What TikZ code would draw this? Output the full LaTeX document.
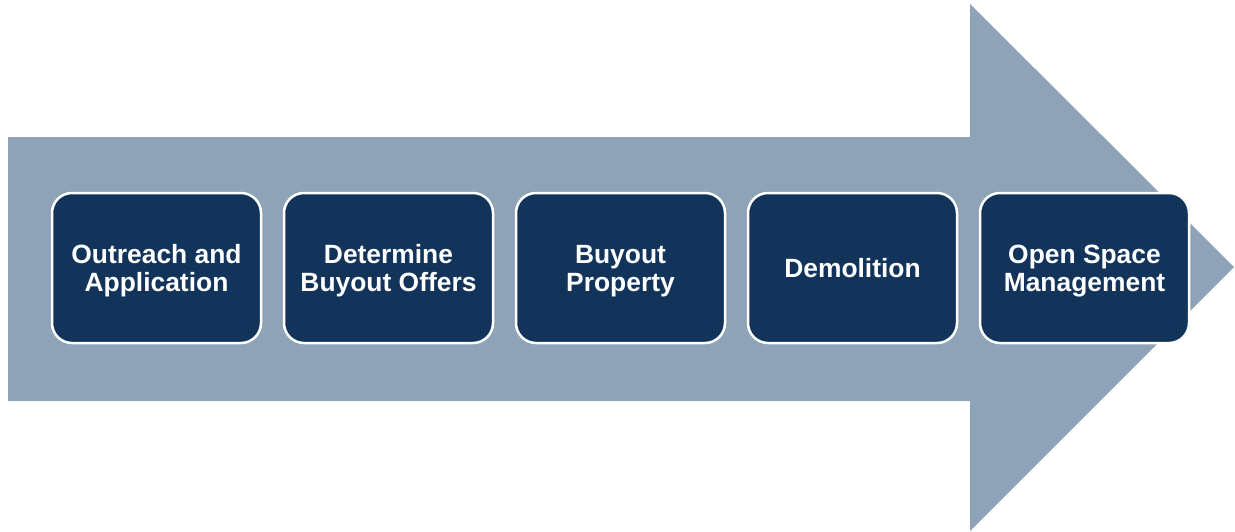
\documentclass[tikz,border=0pt]{standalone}
\usepackage{fontspec}
\setmainfont{Liberation Sans}
\usepackage{xcolor}
\usetikzlibrary{positioning}

\definecolor{ArrowGrey}{HTML}{8EA3B7}
\definecolor{StageBlue}{HTML}{12345A}

\tikzset{
  stage/.style={draw=white, line width=2.5pt, fill=StageBlue, rounded corners=20pt,
    minimum width=209pt, minimum height=150pt, inner sep=0pt, align=center,
    text depth=0pt, text=white, font=\fontsize{26.4}{28}\selectfont\bfseries}
}

\begin{document}
\begin{tikzpicture}[x=1pt,y=-1pt]
\useasboundingbox (0,0) rectangle (1235,531);
% the big process arrow behind the stages
\fill[ArrowGrey] (8,137) -- (970,137) -- (970,4) -- (1234,267) -- (970,531)
  -- (970,401) -- (8,401) -- cycle;

\node[stage] (outreach) at (156.5,268) {Outreach and\\Application};
\node[stage, right=20.5pt of outreach] (offers) {Determine\\Buyout Offers};
\node[stage, right=20.5pt of offers] (property) {Buyout\\Property};
\node[stage, right=20.5pt of property] (demolition) {Demolition};
\node[stage, right=20.5pt of demolition] (openspace) {Open Space\\Management};
\end{tikzpicture}
\end{document}
